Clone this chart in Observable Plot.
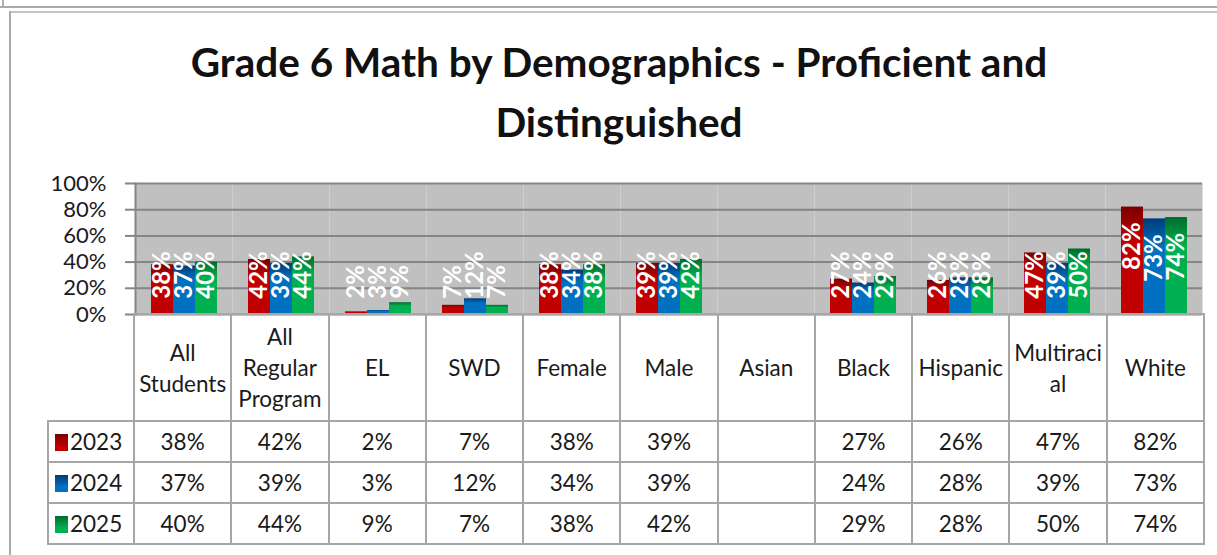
<!DOCTYPE html>
<html><head><meta charset="utf-8">
<script src="https://cdn.jsdelivr.net/npm/d3@7"></script>
<script src="https://cdn.jsdelivr.net/npm/@observablehq/plot@0.6"></script>
<style>
body{margin:0;background:#fff;font-family:Lato,"Open Sans",sans-serif;}
#wrap{position:relative;width:1217px;height:555px;overflow:hidden;background:#fff;}
.hl1{position:absolute;left:0;top:6px;width:1217px;border-top:2px solid #a9a9a9;}
.hl2{position:absolute;left:9px;top:11px;width:1208px;border-top:2px solid #c4c4c4;}
.vl0{position:absolute;left:2px;top:0;height:7px;border-left:2px solid #b0b0b0;}
.vl{position:absolute;left:9px;top:11px;height:544px;border-left:2px solid #a9a9a9;}
#title{position:absolute;left:0;top:32px;width:1238px;text-align:center;font-weight:bold;font-size:40.5px;line-height:60px;color:#111;}
#chart{position:absolute;left:0;top:170px;}
#tbl{position:absolute;left:47px;top:313px;border-collapse:collapse;table-layout:fixed;font-size:22.5px;color:#1a1a1a;}
#tbl td{border:2px solid #a6a6a6;text-align:center;padding:0;line-height:31px;}
#tbl td.leg{text-align:left;padding-left:6px;white-space:nowrap;}
#tbl td.blank{border-top:none;border-left:none;border-bottom:none;}
.sw{display:inline-block;width:13px;height:17px;margin-right:2px;vertical-align:-1px;}
</style>
</head><body>
<div id="wrap">
  <div class="hl1"></div><div class="hl2"></div><div class="vl0"></div><div class="vl"></div>
  <div id="title">Grade 6 Math by Demographics - Proficient and<br>Distinguished</div>
  <div id="chart"></div>
  <table id="tbl"></table>
</div>
<script>
const categories = ["All Students","All Regular Program","EL","SWD","Female","Male","Asian","Black","Hispanic","Multiracial","White"];
const headerLabels = ["All\nStudents","All\nRegular\nProgram","EL","SWD","Female","Male","Asian","Black","Hispanic","Multiraci\nal","White"];
const years = ["2023","2024","2025"];
const v2023 = [38,42,2,7,38,39,null,27,26,47,82];
const v2024 = [37,39,3,12,34,39,null,24,28,39,73];
const v2025 = [40,44,9,7,38,42,null,29,28,50,74];
const yTicks = [0,20,40,60,80,100];
const seriesColors = {"2023":["#7a0000","#c00000"],"2024":["#003c7a","#0070c0"],"2025":["#006b2c","#00b050"]};

const series = {"2023": v2023, "2024": v2024, "2025": v2025};
const rows = [];
years.forEach(y => series[y].forEach((v, i) => rows.push({category: categories[i], year: y, value: v})));
const data = rows.filter(d => d.value != null);

const fontFam = "Lato, 'Open Sans', sans-serif";
const marks = [
  Plot.frame({fill: "#c0c0c0", stroke: "none"}),
  Plot.ruleY(yTicks, {y: d => d, stroke: "#858585", strokeWidth: 2}),
];
years.forEach(y => {
  marks.push(Plot.barY(data.filter(d => d.year === y), {fx: "category", x: "year", y: "value", fill: `url(#grad${y})`}));
});
// all rows (including the empty Asian column) so that no facet counts as empty
marks.push(Plot.text(rows, {
  fx: "category", x: "year",
  y: d => d.value == null ? null : Math.max(12, d.value - 48),
  text: d => d.value == null ? null : d.value + "%",
  rotate: -90, textAnchor: "start",
  fill: "white", fontWeight: "bold", fontSize: 24, fontFamily: fontFam
}));
marks.push(Plot.axisY(yTicks, {label: null, tickFormat: d => d + "%", tickSize: 10, tickPadding: 19, stroke: "#858585", strokeWidth: 2, fill: "#1a1a1a", fontSize: 22, fontFamily: fontFam}));
marks.push(Plot.frame({anchor: "left", facetAnchor: "left", stroke: "#858585", strokeWidth: 2}));

const plot = Plot.plot({
  width: 1217, height: 160,
  marginTop: 13, marginBottom: 16, marginLeft: 133, marginRight: 14,
  style: {background: "transparent", fontFamily: fontFam},
  fx: {domain: categories, padding: 0, axis: null, label: null},
  x: {domain: years, paddingInner: 0, paddingOuter: 0.68, axis: null},
  y: {domain: [0, 100], axis: null},
  marks
});

// gradients for bars
const ns = "http://www.w3.org/2000/svg";
const svg = plot.tagName.toLowerCase() === "svg" ? plot : plot.querySelector("svg");
const defs = document.createElementNS(ns, "defs");
years.forEach(y => {
  const g = document.createElementNS(ns, "linearGradient");
  g.setAttribute("id", "grad" + y);
  g.setAttribute("x1", "0"); g.setAttribute("y1", "0"); g.setAttribute("x2", "0"); g.setAttribute("y2", "1");
  [[0, seriesColors[y][0]], [0.3, seriesColors[y][1]], [1, seriesColors[y][1]]].forEach(([o, c]) => {
    const s = document.createElementNS(ns, "stop");
    s.setAttribute("offset", o); s.setAttribute("stop-color", c);
    g.appendChild(s);
  });
  defs.appendChild(g);
});
svg.insertBefore(defs, svg.firstChild);
document.getElementById("chart").appendChild(plot);

// data table
const tbl = document.getElementById("tbl");
const colW = (1203 - 133) / categories.length;
let html = `<colgroup><col style="width:86px">${categories.map(() => `<col style="width:${colW}px">`).join("")}</colgroup>`;
html += `<tr style="height:107px"><td class="blank"></td>${headerLabels.map(h => `<td>${h.split("\n").join("<br>")}</td>`).join("")}</tr>`;
years.forEach(y => {
  const [c0, c1] = seriesColors[y];
  html += `<tr style="height:41px"><td class="leg"><span class="sw" style="background:linear-gradient(to bottom, ${c0} 0%, ${c1} 70%)"></span>${y}</td>${series[y].map(v => `<td>${v == null ? "" : v + "%"}</td>`).join("")}</tr>`;
});
tbl.innerHTML = html;
tbl.style.width = (86 + 1070) + "px";
</script>
</body></html>
